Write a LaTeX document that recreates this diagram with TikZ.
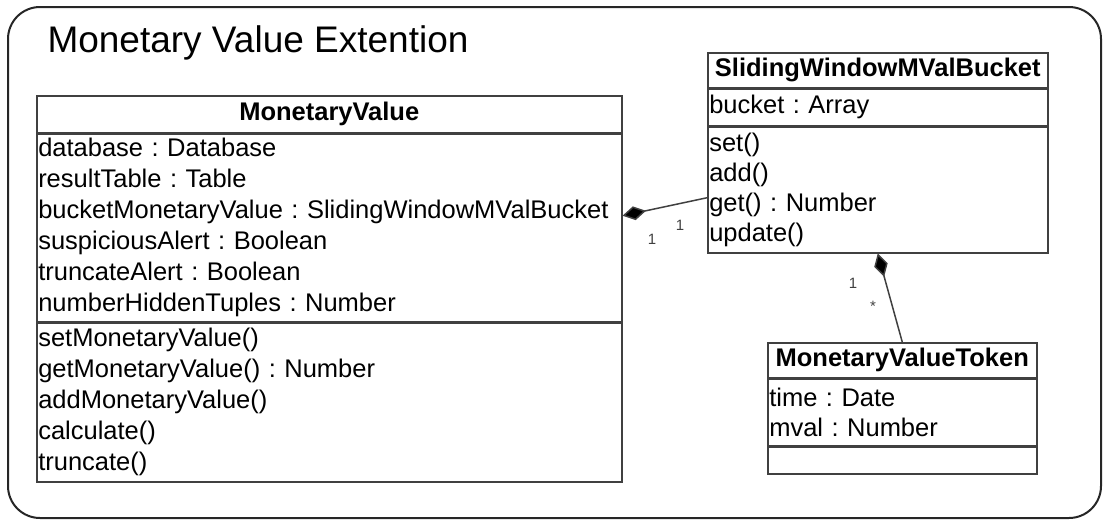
\documentclass[tikz,border=0pt]{standalone}
\usepackage{fontspec}
\setmainfont{Liberation Sans}
\usetikzlibrary{positioning,arrows.meta}
\definecolor{linegray}{RGB}{64,64,64}
\frenchspacing

\begin{document}
\begin{tikzpicture}[x=1pt,y=-1pt,
    compart/.style={draw=linegray, line width=1.5pt, inner xsep=1.5pt, inner ysep=0pt,
      align=left, font=\fontsize{25.5}{30}\selectfont},
    headbox/.style={compart, align=center, font=\fontsize{25.5}{30}\selectfont\bfseries},
    mult/.style={font=\fontsize{15}{17}\selectfont, text=black!75}]
    \useasboundingbox (0,0) rectangle (1103,520);

    % package frame
    \draw[black!85, line width=2pt, rounded corners=32pt] (8,7) rectangle (1101,518);
    \node[anchor=west, font=\fontsize{37}{42}\selectfont] (title) at (44,43) {Monetary Value Extention};

    % MonetaryValue
    \node[headbox, anchor=north west, text width=582, minimum height=37] (mvHead) at (36,95) {MonetaryValue};
    \node[compart, below=0pt of mvHead, text width=582, minimum height=187, font=\fontsize{25.5}{31}\selectfont] (mvAttr)
      {database : Database\\resultTable : Table\\bucketMonetaryValue : SlidingWindowMValBucket\\
       suspiciousAlert : Boolean\\truncateAlert : Boolean\\numberHiddenTuples : Number};
    \node[compart, below=0pt of mvAttr, text width=582, minimum height=159, font=\fontsize{25.5}{31}\selectfont] (mvMeth)
      {setMonetaryValue()\\getMonetaryValue() : Number\\addMonetaryValue()\\calculate()\\truncate()};

    % SlidingWindowMValBucket
    \node[headbox, anchor=north west, text width=337, minimum height=35] (swHead) at (707,52) {SlidingWindowMValBucket};
    \node[compart, below=0pt of swHead, text width=337, minimum height=36] (swAttr) {bucket : Array};
    \node[compart, below=0pt of swAttr, text width=337, minimum height=126] (swMeth)
      {set()\\add()\\get() : Number\\update()};

    % MonetaryValueToken
    \node[headbox, anchor=north west, text width=266, minimum height=35] (tokHead) at (767,342) {MonetaryValueToken};
    \node[compart, below=0pt of tokHead, text width=266, minimum height=66] (tokAttr) {time : Date\\mval : Number};
    \node[compart, below=0pt of tokAttr, text width=266, minimum height=27] (tokMeth) {};

    % compositions
    \draw[linegray, line width=1.5pt, -{Diamond[length=24pt,width=14pt,fill=black]}]
      ([yshift=-8pt]swMeth.west) -- ([yshift=12pt]mvAttr.east);
    \draw[linegray, line width=1.5pt, -{Diamond[length=24pt,width=14pt,fill=black]}]
      (tokHead.north) -- (swMeth.south);

    % multiplicities
    \node[mult] at (652,239) {1};
    \node[mult] at (680,225) {1};
    \node[mult] at (853,283) {1};
    \node[mult] at (873,306) {*};
\end{tikzpicture}
\end{document}
